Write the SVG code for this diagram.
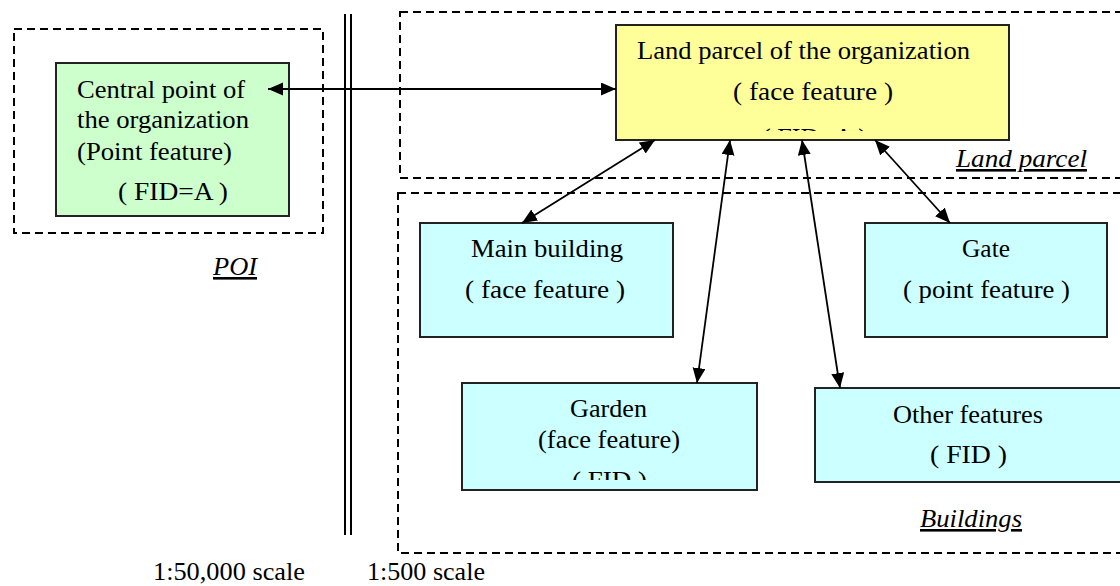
<svg xmlns="http://www.w3.org/2000/svg" width="1120" height="586" viewBox="0 0 1120 586" font-family="'Liberation Serif', 'DejaVu Serif', serif">
<style>
text{font-family:'Liberation Serif','DejaVu Serif',serif}
.t{font-size:26px;fill:#000}
.lbl{font-size:26px;font-style:italic;text-decoration:underline;fill:#000}
.box{stroke:#222;stroke-width:2}
.grp{fill:none;stroke:#000;stroke-width:2;stroke-dasharray:8 5}
.con{fill:none;stroke:#000;stroke-width:1.8;marker-start:url(#ah);marker-end:url(#ah)}
</style>
<defs>
<marker id="ah" markerUnits="userSpaceOnUse" markerWidth="16" markerHeight="14" refX="15" refY="6.5" orient="auto-start-reverse">
<path d="M0,0 L15,6.5 L0,13 z" fill="#000"/>
</marker>
<clipPath id="clipY"><rect x="616" y="25" width="393" height="106"/></clipPath>
<clipPath id="clipG"><rect x="462" y="383" width="295" height="97"/></clipPath>
</defs>
<rect width="1120" height="586" fill="#fff"/>

<g id="groups">
<rect class="grp" x="14" y="29" width="309" height="204"/>
<rect class="grp" x="400" y="12" width="740" height="166"/>
<rect class="grp" x="398" y="193" width="742" height="360"/>
<line x1="345" y1="14" x2="345" y2="535" stroke="#000" stroke-width="2"/>
<line x1="351" y1="14" x2="351" y2="535" stroke="#000" stroke-width="2"/>
</g>

<g id="poi">
<rect class="box" x="56" y="63" width="233" height="153" fill="#CCFFCC"/>
<text class="t" x="77" y="98" textLength="168" lengthAdjust="spacingAndGlyphs">Central point of</text>
<text class="t" x="77" y="128" textLength="172" lengthAdjust="spacingAndGlyphs">the organization</text>
<text class="t" x="77" y="160" textLength="155" lengthAdjust="spacingAndGlyphs">(Point feature)</text>
<text class="t" x="118" y="200" textLength="110" lengthAdjust="spacingAndGlyphs">( FID=A )</text>
</g>

<g id="landparcel">
<rect class="box" x="616" y="25" width="393" height="115" fill="#FFFF99"/>
<text class="t" x="637" y="59" textLength="333" lengthAdjust="spacingAndGlyphs">Land parcel of the organization</text>
<text class="t" x="733" y="100" textLength="160" lengthAdjust="spacingAndGlyphs">( face feature )</text>
<text class="t" x="762" y="146" textLength="105" lengthAdjust="spacingAndGlyphs" clip-path="url(#clipY)">( FID=A )</text>
</g>

<g id="mainbuilding">
<rect class="box" x="420" y="223" width="253" height="114" fill="#CCFFFF"/>
<text class="t" x="471" y="257" textLength="152" lengthAdjust="spacingAndGlyphs">Main building</text>
<text class="t" x="465" y="298" textLength="160" lengthAdjust="spacingAndGlyphs">( face feature )</text>
</g>

<g id="gate">
<rect class="box" x="865" y="223" width="242" height="114" fill="#CCFFFF"/>
<text class="t" x="962" y="257" textLength="48" lengthAdjust="spacingAndGlyphs">Gate</text>
<text class="t" x="903" y="298" textLength="167" lengthAdjust="spacingAndGlyphs">( point feature )</text>
</g>

<g id="garden">
<rect class="box" x="462" y="383" width="295" height="107" fill="#CCFFFF"/>
<text class="t" x="570" y="417" textLength="77" lengthAdjust="spacingAndGlyphs">Garden</text>
<text class="t" x="538" y="448" textLength="142" lengthAdjust="spacingAndGlyphs">(face feature)</text>
<text class="t" x="572" y="489" textLength="75" lengthAdjust="spacingAndGlyphs" clip-path="url(#clipG)">( FID )</text>
</g>

<g id="otherfeatures">
<rect class="box" x="815" y="388" width="320" height="94" fill="#CCFFFF"/>
<text class="t" x="893" y="423" textLength="150" lengthAdjust="spacingAndGlyphs">Other features</text>
<text class="t" x="930" y="463" textLength="77" lengthAdjust="spacingAndGlyphs">( FID )</text>
</g>

<g id="labels">
<text class="lbl" x="956" y="167" textLength="131" lengthAdjust="spacingAndGlyphs">Land parcel</text>
<text class="lbl" x="920" y="527" textLength="102" lengthAdjust="spacingAndGlyphs">Buildings</text>
<text class="lbl" x="213" y="275" textLength="44" lengthAdjust="spacingAndGlyphs">POI</text>
<text class="t" x="153" y="580" textLength="152" lengthAdjust="spacingAndGlyphs">1:50,000 scale</text>
<text class="t" x="367" y="580" textLength="118" lengthAdjust="spacingAndGlyphs">1:500 scale</text>
</g>

<g id="connectors">
<line class="con" x1="268" y1="89" x2="616" y2="89"/>
<line class="con" x1="655" y1="140" x2="522" y2="223"/>
<line class="con" x1="730" y1="140" x2="697" y2="383"/>
<line class="con" x1="802" y1="140" x2="840" y2="388"/>
<line class="con" x1="875" y1="140" x2="950" y2="223"/>
</g>
</svg>
